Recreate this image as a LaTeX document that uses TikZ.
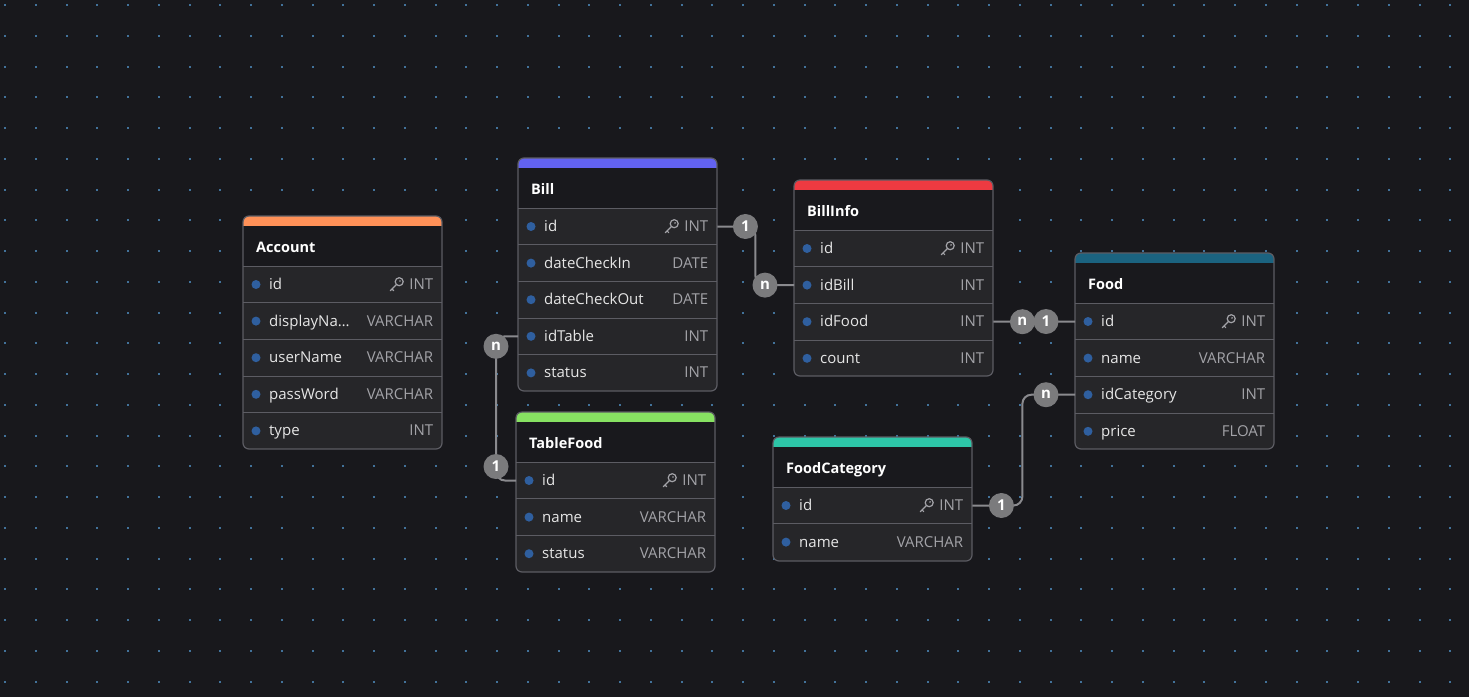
\documentclass[tikz,border=0pt]{standalone}
\usepackage{fontspec}
\setmainfont{Open Sans}
\definecolor{DiagBg}{HTML}{18181C}
\definecolor{DiagHead}{HTML}{19191D}
\definecolor{DiagRow}{HTML}{262629}
\definecolor{DiagBorder}{HTML}{5C5C63}
\definecolor{DiagDot}{HTML}{42729A}
\definecolor{DiagBullet}{HTML}{2F5F9F}
\definecolor{DiagText}{HTML}{E6E6E6}
\definecolor{DiagType}{HTML}{A3A3A8}
\definecolor{DiagBadge}{HTML}{7B7B7D}
\definecolor{DiagLink}{HTML}{8A8A8E}
\definecolor{AccountBar}{HTML}{FF9158}
\definecolor{BillBar}{HTML}{6262F0}
\definecolor{BillInfoBar}{HTML}{EE3A41}
\definecolor{FoodBar}{HTML}{1B6380}
\definecolor{TableFoodBar}{HTML}{87E262}
\definecolor{CategoryBar}{HTML}{2DC6A8}

\tikzset{
  fieldrow/.style={minimum width=199pt, minimum height=36.6pt, inner sep=0pt, anchor=north west},
  fieldname/.style={anchor=base west, inner sep=0pt, text=DiagText, font=\fontsize{15}{18}\selectfont},
  fieldtype/.style={anchor=base east, inner sep=0pt, text=DiagType, font=\fontsize{15}{18}\selectfont},
  tabletitle/.style={anchor=base west, inner sep=0pt, text=white, font=\bfseries\fontsize{14.5}{17}\selectfont},
  badge/.style={circle, fill=DiagBadge, minimum size=25pt, inner sep=0pt, text=white, font=\bfseries\fontsize{15}{18}\selectfont},
  link/.style={DiagLink, line width=2pt, rounded corners=9pt},
  keyicon/.pic={
    \draw[DiagType, line width=1.2pt] (2.8,-2.8) circle (4pt);
    \fill[DiagType] (3.6,-3.6) circle (0.9pt);
    \draw[DiagType, line width=1.2pt, line cap=round] (-0.1,0.1) -- (-6.2,6.2) (-4.4,4.4) -- (-2.6,6.2);
  }
}

\begin{document}
\begin{tikzpicture}[x=1pt, y=-1pt]
    % background and dot grid
    \useasboundingbox (0,0) rectangle (1469,697);
    \fill[DiagBg] (0,0) rectangle (1469,697);
    \foreach \gx in {0,...,47}
        \foreach \gy in {0,...,22}
            \fill[DiagDot] ({4+30.75*\gx},{4+30.75*\gy}) rectangle ++(2,2);

    % ========== Account ==========
    \begin{scope}[shift={(243,216)}]
        \begin{scope}
            \clip[rounded corners=6pt] (0,0) rectangle (199,233);
            \fill[DiagRow] (0,0) rectangle (199,233);
            \fill[DiagHead] (0,0) rectangle (199,50);
            \fill[AccountBar] (0,0) rectangle (199,10);
        \end{scope}
        \node[tabletitle] (account-title) at (13,36) {Account};
        \foreach \key/\fname/\ftype [count=\i from 0] in {id/id/INT, displayName/displayNa\ldots/VARCHAR, userName/userName/VARCHAR, passWord/passWord/VARCHAR, type/type/INT} {
            \node[fieldrow] (account-\key) at (0,{50+36.6*\i}) {};
            \draw[DiagBorder] (account-\key.north west) -- (account-\key.north east);
            \fill[DiagBullet] ([xshift=13pt]account-\key.west) circle (4.5pt);
            \node[fieldname] at ([xshift=26pt, yshift=-5pt]account-\key.west) {\fname};
            \node[fieldtype] at ([xshift=-9pt, yshift=-5pt]account-\key.east) {\ftype};
        }
        \pic at ([xshift=-46pt]account-id.east) {keyicon};
        \draw[DiagBorder, line width=1.2pt, rounded corners=6pt] (0,0) rectangle (199,233);
    \end{scope}

    % ========== Bill ==========
    \begin{scope}[shift={(518,158)}]
        \begin{scope}
            \clip[rounded corners=6pt] (0,0) rectangle (199,233);
            \fill[DiagRow] (0,0) rectangle (199,233);
            \fill[DiagHead] (0,0) rectangle (199,50);
            \fill[BillBar] (0,0) rectangle (199,10);
        \end{scope}
        \node[tabletitle] (bill-title) at (13,36) {Bill};
        \foreach \key/\fname/\ftype [count=\i from 0] in {id/id/INT, dateCheckIn/dateCheckIn/DATE, dateCheckOut/dateCheckOut/DATE, idTable/idTable/INT, status/status/INT} {
            \node[fieldrow] (bill-\key) at (0,{50+36.6*\i}) {};
            \draw[DiagBorder] (bill-\key.north west) -- (bill-\key.north east);
            \fill[DiagBullet] ([xshift=13pt]bill-\key.west) circle (4.5pt);
            \node[fieldname] at ([xshift=26pt, yshift=-5pt]bill-\key.west) {\fname};
            \node[fieldtype] at ([xshift=-9pt, yshift=-5pt]bill-\key.east) {\ftype};
        }
        \pic at ([xshift=-46pt]bill-id.east) {keyicon};
        \draw[DiagBorder, line width=1.2pt, rounded corners=6pt] (0,0) rectangle (199,233);
    \end{scope}

    % ========== BillInfo ==========
    \begin{scope}[shift={(794,180)}]
        \begin{scope}
            \clip[rounded corners=6pt] (0,0) rectangle (199,196);
            \fill[DiagRow] (0,0) rectangle (199,196);
            \fill[DiagHead] (0,0) rectangle (199,50);
            \fill[BillInfoBar] (0,0) rectangle (199,10);
        \end{scope}
        \node[tabletitle] (billinfo-title) at (13,36) {BillInfo};
        \foreach \key/\fname/\ftype [count=\i from 0] in {id/id/INT, idBill/idBill/INT, idFood/idFood/INT, count/count/INT} {
            \node[fieldrow] (billinfo-\key) at (0,{50+36.6*\i}) {};
            \draw[DiagBorder] (billinfo-\key.north west) -- (billinfo-\key.north east);
            \fill[DiagBullet] ([xshift=13pt]billinfo-\key.west) circle (4.5pt);
            \node[fieldname] at ([xshift=26pt, yshift=-5pt]billinfo-\key.west) {\fname};
            \node[fieldtype] at ([xshift=-9pt, yshift=-5pt]billinfo-\key.east) {\ftype};
        }
        \pic at ([xshift=-46pt]billinfo-id.east) {keyicon};
        \draw[DiagBorder, line width=1.2pt, rounded corners=6pt] (0,0) rectangle (199,196);
    \end{scope}

    % ========== Food ==========
    \begin{scope}[shift={(1075,253)}]
        \begin{scope}
            \clip[rounded corners=6pt] (0,0) rectangle (199,196);
            \fill[DiagRow] (0,0) rectangle (199,196);
            \fill[DiagHead] (0,0) rectangle (199,50);
            \fill[FoodBar] (0,0) rectangle (199,10);
        \end{scope}
        \node[tabletitle] (food-title) at (13,36) {Food};
        \foreach \key/\fname/\ftype [count=\i from 0] in {id/id/INT, name/name/VARCHAR, idCategory/idCategory/INT, price/price/FLOAT} {
            \node[fieldrow] (food-\key) at (0,{50+36.6*\i}) {};
            \draw[DiagBorder] (food-\key.north west) -- (food-\key.north east);
            \fill[DiagBullet] ([xshift=13pt]food-\key.west) circle (4.5pt);
            \node[fieldname] at ([xshift=26pt, yshift=-5pt]food-\key.west) {\fname};
            \node[fieldtype] at ([xshift=-9pt, yshift=-5pt]food-\key.east) {\ftype};
        }
        \pic at ([xshift=-46pt]food-id.east) {keyicon};
        \draw[DiagBorder, line width=1.2pt, rounded corners=6pt] (0,0) rectangle (199,196);
    \end{scope}

    % ========== TableFood ==========
    \begin{scope}[shift={(516,412)}]
        \begin{scope}
            \clip[rounded corners=6pt] (0,0) rectangle (199,160);
            \fill[DiagRow] (0,0) rectangle (199,160);
            \fill[DiagHead] (0,0) rectangle (199,50);
            \fill[TableFoodBar] (0,0) rectangle (199,10);
        \end{scope}
        \node[tabletitle] (tablefood-title) at (13,36) {TableFood};
        \foreach \key/\fname/\ftype [count=\i from 0] in {id/id/INT, name/name/VARCHAR, status/status/VARCHAR} {
            \node[fieldrow] (tablefood-\key) at (0,{50+36.6*\i}) {};
            \draw[DiagBorder] (tablefood-\key.north west) -- (tablefood-\key.north east);
            \fill[DiagBullet] ([xshift=13pt]tablefood-\key.west) circle (4.5pt);
            \node[fieldname] at ([xshift=26pt, yshift=-5pt]tablefood-\key.west) {\fname};
            \node[fieldtype] at ([xshift=-9pt, yshift=-5pt]tablefood-\key.east) {\ftype};
        }
        \pic at ([xshift=-46pt]tablefood-id.east) {keyicon};
        \draw[DiagBorder, line width=1.2pt, rounded corners=6pt] (0,0) rectangle (199,160);
    \end{scope}

    % ========== FoodCategory ==========
    \begin{scope}[shift={(773,437)}]
        \begin{scope}
            \clip[rounded corners=6pt] (0,0) rectangle (199,124);
            \fill[DiagRow] (0,0) rectangle (199,124);
            \fill[DiagHead] (0,0) rectangle (199,50);
            \fill[CategoryBar] (0,0) rectangle (199,10);
        \end{scope}
        \node[tabletitle] (category-title) at (13,36) {FoodCategory};
        \foreach \key/\fname/\ftype [count=\i from 0] in {id/id/INT, name/name/VARCHAR} {
            \node[fieldrow] (category-\key) at (0,{50+36.6*\i}) {};
            \draw[DiagBorder] (category-\key.north west) -- (category-\key.north east);
            \fill[DiagBullet] ([xshift=13pt]category-\key.west) circle (4.5pt);
            \node[fieldname] at ([xshift=26pt, yshift=-5pt]category-\key.west) {\fname};
            \node[fieldtype] at ([xshift=-9pt, yshift=-5pt]category-\key.east) {\ftype};
        }
        \pic at ([xshift=-46pt]category-id.east) {keyicon};
        \draw[DiagBorder, line width=1.2pt, rounded corners=6pt] (0,0) rectangle (199,124);
    \end{scope}

    % ========== Relations ==========
    \draw[link] (bill-id.east) -- ++(38,0) |- (billinfo-idBill.west);
    \draw[link] (bill-idTable.west) -- ++(-22,0) |- (tablefood-id.west);
    \draw[link] (billinfo-idFood.east) -- (food-id.west);
    \draw[link] (category-id.east) -- ++(50,0) |- (food-idCategory.west);

    % cardinality badges
    \node[badge] (bill-id-card) at ([xshift=28pt]bill-id.east) {1};
    \node[badge] (billinfo-idBill-card) at ([xshift=-29pt]billinfo-idBill.west) {n};
    \node[badge] (bill-idTable-card) at ([xshift=-22pt, yshift=-10pt]bill-idTable.west) {n};
    \node[badge] (tablefood-id-card) at ([xshift=-20pt, yshift=14pt]tablefood-id.west) {1};
    \node[badge] (billinfo-idFood-card) at ([xshift=29pt]billinfo-idFood.east) {n};
    \node[badge] (food-id-card) at ([xshift=-29pt]food-id.west) {1};
    \node[badge] (category-id-card) at ([xshift=29pt]category-id.east) {1};
    \node[badge] (food-idCategory-card) at ([xshift=-29pt]food-idCategory.west) {n};

\end{tikzpicture}
\end{document}
